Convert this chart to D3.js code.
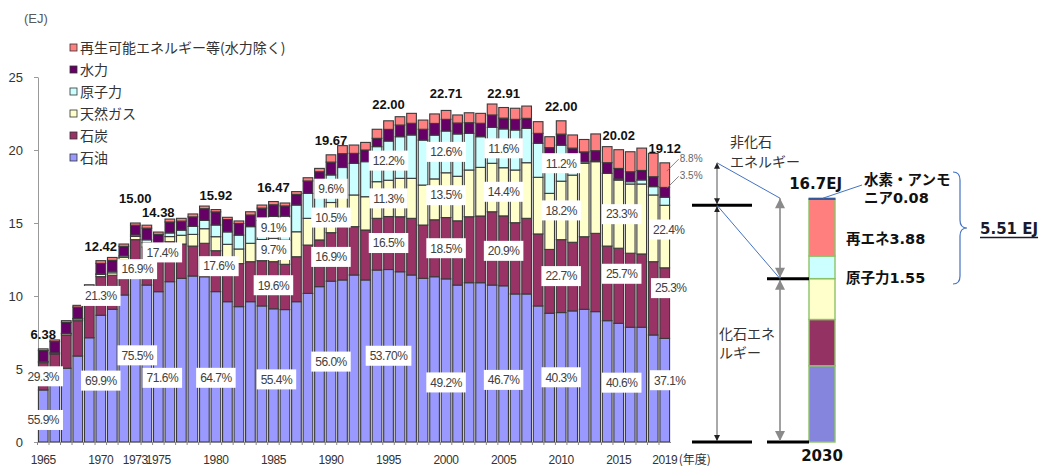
<!DOCTYPE html>
<html><head><meta charset="utf-8">
<script src="https://cdn.jsdelivr.net/npm/d3@7"></script>
<style>
html,body{margin:0;padding:0;background:#fff;}
svg{display:block;}
text{font-family:"Liberation Sans",Arial,sans-serif;}
.jp{font-family:"Noto Sans CJK JP",sans-serif;}
.bold{font-family:"DejaVu Sans","Noto Sans CJK JP",sans-serif;font-weight:bold;}
</style></head><body>
<svg id="chart" width="1040" height="466"></svg>
<script>
// Japan primary energy supply by source, fiscal years 1965-2019 (EJ)
const years = d3.range(1965, 2020);
const oil = [3.566,4.15,5.05,5.89,7.14,8.682,9.09,10.07,11.325,10.75,10.296,10.98,11.21,11.37,11.32,10.30,9.61,9.27,9.61,9.32,
  9.124,9.07,9.61,10.18,10.64,11.015,11.10,11.44,11.10,11.78,11.814,11.66,11.44,11.21,11.32,11.173,10.75,10.91,10.91,10.75,
  10.699,10.14,10.14,9.32,8.82,8.866,8.98,9.09,8.93,8.31,8.128,7.86,7.86,7.33,7.094];
const coal = [1.869,1.88,2.28,2.42,2.55,2.645,2.33,2.40,2.535,2.60,2.502,2.74,2.35,2.05,2.29,2.802,2.93,2.95,2.74,3.10,
  3.228,3.10,3.08,3.31,3.20,3.324,3.60,3.31,3.42,3.54,3.630,3.77,3.88,3.65,3.90,4.201,4.40,4.52,4.57,5.02,
  4.788,4.88,5.18,4.93,4.37,4.994,4.70,4.97,5.36,5.11,5.145,5.07,5.02,5.02,4.837];
const gas = [0.08,0.08,0.10,0.12,0.15,0.15,0.17,0.18,0.22,0.30,0.36,0.35,0.60,0.80,1.00,0.96,1.00,1.00,1.26,1.45,
  1.598,1.65,1.71,1.83,1.95,2.065,2.20,2.17,2.28,2.51,2.486,2.63,2.74,2.74,2.80,3.066,3.05,3.20,3.33,3.32,
  3.299,3.61,3.81,3.88,3.84,4.004,4.60,5.03,4.91,4.98,4.665,4.74,4.79,4.57,4.283];
const nuclear = [0,0,0.01,0.03,0.04,0.04,0.10,0.10,0.10,0.20,0.30,0.25,0.35,0.55,0.57,0.80,0.85,0.95,1.14,1.30,
  1.499,1.65,1.83,1.71,1.82,1.888,1.90,2.17,2.40,2.40,2.684,2.85,2.97,3.08,3.00,2.861,2.90,2.51,2.10,2.46,
  2.658,2.74,2.35,2.33,2.43,2.464,1.10,0.10,0.05,0,0.08,0.16,0.28,0.57,0.554];
const hydro = [0.75,0.77,0.75,0.78,0.77,0.72,0.75,0.65,0.67,0.80,0.76,0.75,0.62,0.65,0.80,0.90,0.85,0.80,0.80,0.85,
  0.80,0.70,0.73,0.85,0.90,0.88,0.95,0.68,0.80,0.57,0.80,0.80,0.80,0.74,0.80,0.80,0.75,0.73,0.92,0.85,
  0.74,0.73,0.69,0.68,0.70,0.76,0.75,0.68,0.70,0.73,0.72,0.68,0.65,0.68,0.669];
const renew = [0.115,0.11,0.12,0.12,0.12,0.183,0.20,0.16,0.15,0.20,0.162,0.20,0.19,0.20,0.18,0.158,0.15,0.17,0.22,0.21,
  0.221,0.20,0.19,0.22,0.23,0.498,0.55,0.57,0.52,0.62,0.586,0.57,0.68,0.63,0.65,0.609,0.55,0.68,0.68,0.75,
  0.726,0.76,0.84,0.80,0.75,0.912,0.90,0.85,1.15,1.10,1.282,1.37,1.53,1.60,1.683];

// 2030 outlook (EJ)
const mix2030Keys = ["oil","coal","gas","nuclear","renew","hydrogen"];
const mix2030Values = [5.22,3.17,2.80,1.55,3.88,0.08];

const seriesKeys = ["oil","coal","gas","nuclear","hydro","renew"];
const seriesNames = ["石油","石炭","天然ガス","原子力","水力","再生可能エネルギー等(水力除く)"];
const yTicks = [0,5,10,15,20,25];
const xTickYears = [1965,1970,1973,1975,1980,1985,1990,1995,2000,2005,2010,2015,2019];
const totalLabelYears = [1965,1970,1973,1975,1980,1985,1990,1995,2000,2005,2010,2015,2019];
const shareLabelSpots = [
  [1965,"oil"],[1965,"coal"],[1970,"oil"],[1970,"coal"],[1973,"oil"],[1973,"coal"],
  [1975,"oil"],[1975,"coal"],[1980,"oil"],[1980,"coal"],
  [1985,"oil"],[1985,"coal"],[1985,"gas"],[1985,"nuclear"],
  [1990,"oil"],[1990,"coal"],[1990,"gas"],[1990,"nuclear"],
  [1995,"oil"],[1995,"coal"],[1995,"gas"],[1995,"nuclear"],
  [2000,"oil"],[2000,"coal"],[2000,"gas"],[2000,"nuclear"],
  [2005,"oil"],[2005,"coal"],[2005,"gas"],[2005,"nuclear"],
  [2010,"oil"],[2010,"coal"],[2010,"gas"],[2010,"nuclear"],
  [2015,"oil"],[2015,"coal"],[2015,"gas"],
  [2019,"oil"],[2019,"coal"],[2019,"gas"]
];

// ---------- styling / layout ----------
const colors = {oil:"#9999ff", coal:"#993366", gas:"#ffffcc", nuclear:"#ccffff", hydro:"#660066", renew:"#ff8080"};
const colors2030 = {oil:"#8585de", coal:"#943264", gas:"#ffffcc", nuclear:"#ccffff", renew:"#ff7f7f", hydrogen:"#2f5597"};

const svg = d3.select("#chart");
const y = d3.scaleLinear().domain([0, 25]).range([442, 77]);
const x = d3.scaleBand().domain(years).range([37.5, 670.5]).paddingInner(0.16).paddingOuter(0.08);
const bw = x.bandwidth();
const cx = yr => x(yr) + bw / 2;

const rows = years.map((yr, i) => ({year: yr, oil: oil[i], coal: coal[i], gas: gas[i],
  nuclear: nuclear[i], hydro: hydro[i], renew: renew[i]}));
const totals = rows.map(r => d3.sum(seriesKeys, k => r[k]));
const stacked = d3.stack().keys(seriesKeys)(rows);

// unit label
svg.append("text").attr("x", 24).attr("y", 23).attr("font-size", 13).attr("fill", "#595959").text("(EJ)");

// y axis
const yAxis = svg.append("g").attr("transform", "translate(38,0)")
  .call(d3.axisLeft(y).tickValues(yTicks).tickSize(4).tickSizeOuter(0).tickPadding(11));
yAxis.select(".domain").attr("stroke", "#999");
yAxis.selectAll(".tick line").attr("stroke", "#999");
yAxis.selectAll(".tick text").attr("font-size", 13).attr("fill", "#333")
  .style("font-family", "'Liberation Sans',Arial,sans-serif");

// stacked bars
svg.append("g").selectAll("g").data(stacked).join("g")
  .attr("fill", d => colors[d.key])
  .selectAll("rect").data(d => d).join("rect")
  .attr("x", d => x(d.data.year)).attr("width", bw)
  .attr("y", d => y(d[1])).attr("height", d => Math.max(0, y(d[0]) - y(d[1])))
  .attr("stroke", "#3a3a3a").attr("stroke-width", 1.1);

// x axis
const xAxis = svg.append("g").attr("transform", `translate(0,${y(0)})`)
  .call(d3.axisBottom(x).tickValues(xTickYears).tickSize(0).tickPadding(13));
xAxis.select(".domain").attr("stroke", "#888");
xAxis.selectAll(".tick text").attr("font-size", 12).attr("fill", "#333")
  .attr("letter-spacing", -0.4).style("font-family", "'Liberation Sans',Arial,sans-serif");
svg.append("g").selectAll("line").data(years).join("line")
  .attr("x1", d => x(d) - x.step() * x.paddingInner() / 2).attr("x2", d => x(d) - x.step() * x.paddingInner() / 2)
  .attr("y1", y(0)).attr("y2", y(0) + 3).attr("stroke", "#888");
svg.append("text").attr("class", "jp").attr("x", cx(2019) + 14).attr("y", 464)
  .attr("font-size", 12).attr("fill", "#333").text("(年度)");

// share labels inside the bars
const nudge = {"1965-oil":[0,4],"1970-oil":[0,2],"1973-oil":[2,-4],"1973-coal":[2,11],
  "1975-oil":[4,11],"1975-coal":[4,-21],"1980-oil":[0,11],"1980-coal":[3,-5],"1985-oil":[3,4],
  "2000-oil":[0,22],"2005-oil":[0,16],"2015-coal":[3,-12],"2015-oil":[3,0],"2015-gas":[3,0],
  "2019-oil":[5,-10],"2019-coal":[6,-15],"2019-gas":[4,-7]};
const labelLayer = svg.append("g");
shareLabelSpots.forEach(([yr, key]) => {
  const i = years.indexOf(yr);
  const seg = stacked[seriesKeys.indexOf(key)][i];
  const share = rows[i][key] / totals[i];
  const txt = (yr === 1995 && key === "oil") ? d3.format(".2%")(share) : d3.format(".1%")(share);
  const [dx, dy] = nudge[`${yr}-${key}`] || [0, 0];
  const px = cx(yr) + dx, py = (y(seg[0]) + y(seg[1])) / 2 + dy;
  const g = labelLayer.append("g");
  const t = g.append("text").attr("x", px).attr("y", py).attr("dy", "0.36em")
    .attr("text-anchor", "middle").attr("font-size", 12).attr("letter-spacing", -0.5)
    .attr("fill", "#404040").text(txt);
  const w = t.node().getComputedTextLength();
  g.insert("rect", "text").attr("x", px - w / 2 - 4).attr("y", py - 10)
    .attr("width", w + 8).attr("height", 20).attr("fill", "#fff");
});

// totals above selected bars
const lift = {1973: 20, 1975: 15, 1995: 12, 2000: 12};
svg.append("g").selectAll("text").data(totalLabelYears).join("text")
  .attr("x", d => cx(d)).attr("y", d => y(totals[years.indexOf(d)]) - (lift[d] || 10))
  .attr("text-anchor", "middle").attr("font-size", 13).attr("font-weight", "bold").attr("fill", "#111")
  .text(d => d3.format(".2f")(totals[years.indexOf(d)]));

// small share call-outs for the 2019 hydro and renewables
const i19 = years.indexOf(2019);
["renew", "hydro"].forEach(key => {
  const seg = stacked[seriesKeys.indexOf(key)][i19];
  const mid = (y(seg[0]) + y(seg[1])) / 2;
  const lx = cx(2019) + 15;
  svg.append("line").attr("x1", lx - 1).attr("y1", mid - 16).attr("x2", cx(2019) + 2).attr("y2", mid - 4)
    .attr("stroke", "#666").attr("stroke-width", 0.8);
  svg.append("text").attr("x", lx).attr("y", mid - 13).attr("font-size", 10).attr("fill", "#666")
    .text(d3.format(".1%")(rows[i19][key] / totals[i19]));
});

// legend
const legend = svg.append("g");
seriesKeys.slice().reverse().forEach((k, j) => {
  const ly = 48 + j * 22;
  legend.append("rect").attr("x", 70).attr("y", ly - 4).attr("width", 7).attr("height", 7)
    .attr("fill", colors[k]).attr("stroke", "#333").attr("stroke-width", 0.8);
  legend.append("text").attr("class", "jp").attr("x", 80).attr("y", ly + 5).attr("font-size", 14)
    .attr("fill", "#333").text(seriesNames[seriesKeys.indexOf(k)]);
});

// ---------- 2030 outlook bar and annotations ----------
const x30 = d3.scaleBand().domain(["2030"]).range([809, 835]);
const row30 = {}; mix2030Keys.forEach((k, i) => row30[k] = mix2030Values[i]);
const stack30 = d3.stack().keys(mix2030Keys)([row30]);
const total30 = d3.sum(mix2030Values);
const fossil30 = row30.oil + row30.coal + row30.gas;
const nonFossil30 = total30 - fossil30;
svg.append("g").selectAll("rect").data(stack30).join("rect")
  .attr("x", x30("2030")).attr("width", x30.bandwidth())
  .attr("y", d => y(d[0][1])).attr("height", d => y(d[0][0]) - y(d[0][1]))
  .attr("fill", d => colors2030[d.key])
  .attr("stroke", d => d.key === "hydrogen" ? colors2030.hydrogen : "#8cc266")
  .attr("stroke-width", d => d.key === "hydrogen" ? 1 : 1.4);

const fossil19 = rows[i19].oil + rows[i19].coal + rows[i19].gas;
const total19 = totals[i19];

const defs = svg.append("defs");
defs.append("marker").attr("id", "headBlack").attr("viewBox", "0 0 10 10").attr("refX", 10).attr("refY", 5)
  .attr("markerWidth", 6).attr("markerHeight", 8).attr("markerUnits", "userSpaceOnUse")
  .attr("orient", "auto-start-reverse").append("path").attr("d", "M0,0L10,5L0,10z").attr("fill", "#222");
defs.append("marker").attr("id", "headGray").attr("viewBox", "0 0 10 10").attr("refX", 10).attr("refY", 5)
  .attr("markerWidth", 11).attr("markerHeight", 10).attr("markerUnits", "userSpaceOnUse")
  .attr("orient", "auto-start-reverse").append("path").attr("d", "M0,0L10,5L0,10z").attr("fill", "#8a8a8a");

const axL = 717, axR = 780;
const ann = svg.append("g");
// horizontal reference bars
[[692, 752, y(fossil19)], [692, 752, y(0)], [767, x30("2030"), y(fossil30)], [767, x30("2030"), y(0)]]
  .forEach(([a, b, yy]) => ann.append("line").attr("x1", a).attr("x2", b).attr("y1", yy).attr("y2", yy)
    .attr("stroke", "#000").attr("stroke-width", 3));
// double-headed arrows
const arrow = (xx, y1, y2, head, col, sw) => ann.append("line").attr("x1", xx).attr("x2", xx)
  .attr("y1", y1).attr("y2", y2).attr("stroke", col).attr("stroke-width", sw)
  .attr("marker-start", `url(#${head})`).attr("marker-end", `url(#${head})`);
arrow(axL, y(total19), y(fossil19) - 1, "headBlack", "#555", 1);
arrow(axL, y(fossil19) + 1, y(0) - 1, "headBlack", "#555", 1);
arrow(axR, y(total30), y(fossil30) - 1, "headGray", "#8a8a8a", 1.6);
arrow(axR, y(fossil30) + 1, y(0) - 1, "headGray", "#8a8a8a", 1.6);
// connectors
ann.append("line").attr("x1", axL).attr("y1", y(total19)).attr("x2", axR).attr("y2", y(total30))
  .attr("stroke", "#4472c4").attr("stroke-width", 1);
ann.append("line").attr("x1", axL).attr("y1", y(fossil19)).attr("x2", axR).attr("y2", y(fossil30))
  .attr("stroke", "#4472c4").attr("stroke-width", 1);
ann.append("line").attr("x1", x30("2030") + 14).attr("y1", y(total30)).attr("x2", 862).attr("y2", 185)
  .attr("stroke", "#4472c4").attr("stroke-width", 1);

const jpText = (tx, ty, s, cls, size, fill) => ann.append("text").attr("class", cls).attr("x", tx).attr("y", ty)
  .attr("font-size", size).attr("fill", fill || "#222").text(s);
jpText(730, 147, "非化石", "jp", 14, "#333");
jpText(730, 167, "エネルギー", "jp", 14, "#333");
jpText(719, 339, "化石エネ", "jp", 14, "#333");
jpText(719, 358, "ルギー", "jp", 14, "#333");
ann.append("text").attr("class", "bold").attr("x", 842).attr("y", y(total30) - 9).attr("text-anchor", "end")
  .attr("font-size", 15).attr("fill", "#111").text(d3.format(".1f")(total30) + "EJ");
jpText(864, 185, "水素・アンモ", "bold", 14.5, "#111");
jpText(864, 203, "ニア" + d3.format(".2f")(row30.hydrogen), "bold", 14.5, "#111");
jpText(846, 244, "再エネ" + d3.format(".2f")(row30.renew), "bold", 14.5, "#111");
jpText(846, 283, "原子力" + d3.format(".2f")(row30.nuclear), "bold", 14.5, "#111");
ann.append("text").attr("class", "bold").attr("x", x30("2030") + x30.bandwidth() / 2).attr("y", 461)
  .attr("text-anchor", "middle").attr("font-size", 15).attr("fill", "#111").text("2030");

// brace grouping the non-fossil sources
ann.append("path").attr("fill", "none").attr("stroke", "#4472c4").attr("stroke-width", 1.2)
  .attr("d", "M953,172 Q960,172 960,180 L960,220 Q960,228 967,228 Q960,228 960,236 L960,276 Q960,284 953,284");
const nf = ann.append("text").attr("class", "bold").attr("x", 980).attr("y", 234).attr("font-size", 15)
  .attr("fill", "#1a1a2e").text(d3.format(".2f")(nonFossil30) + " EJ");
const nfw = nf.node().getComputedTextLength();
ann.append("line").attr("x1", 980).attr("x2", 980 + nfw).attr("y1", 237.5).attr("y2", 237.5)
  .attr("stroke", "#1a1a2e").attr("stroke-width", 1.3);
</script>
</body></html>
